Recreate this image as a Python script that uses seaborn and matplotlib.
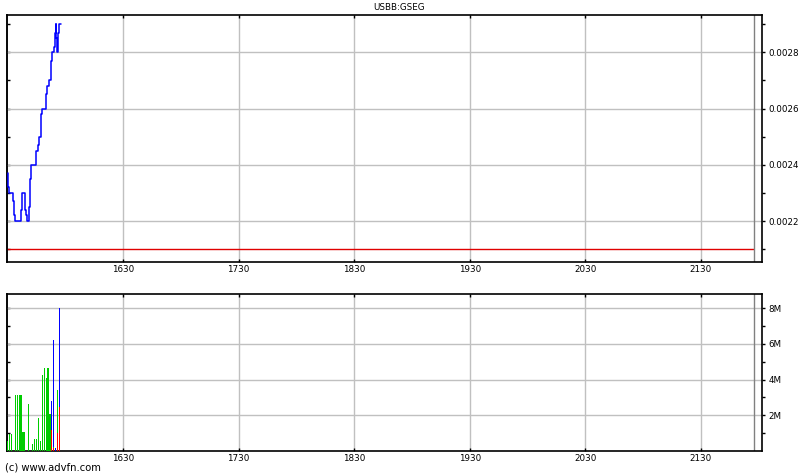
import matplotlib
matplotlib.use("Agg")
import matplotlib.pyplot as plt
import seaborn as sns
import numpy as np
import pandas as pd
from matplotlib.ticker import FixedLocator, FuncFormatter, NullFormatter

# ---------------- data ----------------
title = "USBB:GSEG"
session_start = 930          # 15:30 in minutes since midnight
session_end_marker = 1317.5  # grey end-of-session line
prev_close = 0.0021

# price (minutes after 15:30, step value)
price_minutes = [0, 0.2, 0.6, 2.8, 3.2, 3.7, 7.1, 7.6, 9.3, 9.8, 10.2, 11.2, 11.7,
                 12.3, 14.7, 15.0, 15.6, 16.4, 17.1, 17.5, 17.8, 19.9, 20.2, 20.7,
                 21.6, 22.3, 22.6, 23.3, 24.0, 24.4, 24.9, 25.2, 25.6, 26.1, 26.6, 27.7]
price_values = [0.00237, 0.00232, 0.00230, 0.00227, 0.00222, 0.00220, 0.00224, 0.00230,
                0.00224, 0.00222, 0.00220, 0.00225, 0.00235, 0.00240, 0.00242, 0.00245,
                0.00247, 0.00250, 0.00253, 0.00258, 0.00260, 0.00263, 0.00265, 0.00268,
                0.00270, 0.00273, 0.00277, 0.00280, 0.00282, 0.00287, 0.00290, 0.00285,
                0.00280, 0.00287, 0.00290, 0.00290]

# volume per minute (millions), stacked red / green / blue
vol_minutes = [0, 1, 2, 4, 5, 6, 7, 8, 9, 11, 13, 14, 15, 16, 17, 18, 19, 20, 21, 22,
               23, 24, 25, 26, 27]
vol_red = [0] * 20 + [1.17, 0.15, 0, 0.98, 2.45]
vol_green = [0.58, 0.97, 0.97, 3.16, 3.16, 3.16, 3.16, 1.05, 1.08, 2.65, 0.41, 0.69,
             0.69, 1.87, 0.58, 4.28, 4.67, 4.11, 4.67, 2.09, 0, 0.10, 0, 2.46, 0]
vol_blue = [0] * 20 + [1.60, 5.94, 0.19, 0, 5.55]

xtick_minutes = [990, 1050, 1110, 1170, 1230, 1290]
xtick_labels = ["1630", "1730", "1830", "1930", "2030", "2130"]
price_ticks = [0.0022, 0.0024, 0.0026, 0.0028]
price_minor = [0.0021, 0.0023, 0.0025, 0.0027, 0.0029]
vol_ticks = [2, 4, 6, 8]
vol_minor = [1, 3, 5, 7]

# ---------------- style ----------------
sns.set_style("white")
plt.rcParams["font.family"] = ["DejaVu Sans"]
plt.rcParams["text.color"] = "black"
plt.rcParams["xtick.color"] = "black"
plt.rcParams["ytick.color"] = "black"
FS = 6.3
GRID = "#c0c0c0"

fig = plt.figure(figsize=(8, 4.75), dpi=100)
W, H = 800.0, 475.0
def axes_px(l, t, r, b):
    return fig.add_axes([l / W, 1 - b / H, (r - l) / W, (b - t) / H])

ax1 = axes_px(7, 15, 762, 262)
ax2 = axes_px(7, 294, 762, 451)

xlim = (929.7, 1321.8)

df_price = pd.DataFrame({"t": [session_start + m for m in price_minutes],
                         "price": price_values})

# ---- price panel
sns.lineplot(data=df_price, x="t", y="price", ax=ax1, color="#0000ff",
             linewidth=1.1, drawstyle="steps-post", zorder=3)
ax1.hlines(prev_close, xlim[0], session_end_marker, color="#e00000", linewidth=1, zorder=2)
ax1.set_xlim(*xlim)
ax1.set_ylim(0.0020542, 0.0029327)

# ---- volume panel
vx = np.array([session_start + m for m in vol_minutes], dtype=float)
r = np.array(vol_red) * 1e6
g = np.array(vol_green) * 1e6
b = np.array(vol_blue) * 1e6
bw = 0.6
ax2.bar(vx, r, width=bw, color="#ff0000", linewidth=0, antialiased=False, zorder=3)
ax2.bar(vx, g, width=bw, bottom=r, color="#00cc00", linewidth=0, antialiased=False, zorder=3)
ax2.bar(vx, b, width=bw, bottom=r + g, color="#0000ff", linewidth=0, antialiased=False, zorder=3)
ax2.set_xlim(*xlim)
ax2.set_ylim(0, 8.785e6)

ax1.yaxis.set_major_locator(FixedLocator(price_ticks))
ax1.yaxis.set_minor_locator(FixedLocator(price_minor))
ax1.yaxis.set_major_formatter(FuncFormatter(lambda v, p: f"{v:.4f}"))
ax1.yaxis.set_minor_formatter(NullFormatter())

ax2.yaxis.set_major_locator(FixedLocator([v * 1e6 for v in vol_ticks]))
ax2.yaxis.set_minor_locator(FixedLocator([v * 1e6 for v in vol_minor]))
ax2.yaxis.set_major_formatter(FuncFormatter(lambda v, p: f"{int(round(v / 1e6))}M"))
ax2.yaxis.set_minor_formatter(NullFormatter())

for ax in (ax1, ax2):
    ax.axvline(session_end_marker, color="#808080", linewidth=1, zorder=2)
    ax.set_xlabel("")
    ax.set_ylabel("")
    ax.xaxis.set_major_locator(FixedLocator(xtick_minutes))
    ax.set_xticklabels(xtick_labels, fontsize=FS)
    ax.grid(True, which="major", color=GRID, linewidth=1, zorder=0)
    ax.set_axisbelow(True)
    for s in ax.spines.values():
        s.set_color("black")
        s.set_linewidth(1.2)
    ax.tick_params(axis="x", which="major", direction="in", length=2.5, width=1,
                   top=True, bottom=True, pad=2, labelsize=FS, colors="black")
    ax.yaxis.tick_right()
    ax.tick_params(axis="y", which="both", direction="out", length=2.5, width=1,
                   right=True, left=False, labelleft=False, labelright=True,
                   pad=2, labelsize=FS, colors="black")
    # inward ticks on the left spine
    sec = ax.secondary_yaxis("left")
    sec.yaxis.set_major_locator(FixedLocator(ax.yaxis.get_majorticklocs()))
    sec.yaxis.set_minor_locator(FixedLocator(ax.yaxis.get_minorticklocs()))
    sec.yaxis.set_major_formatter(NullFormatter())
    sec.yaxis.set_minor_formatter(NullFormatter())
    sec.tick_params(axis="y", which="both", direction="in", length=2.5, width=1,
                    colors="black")
    sec.spines["left"].set_linewidth(1.2)

fig.text(398.5 / W, 1 - 8 / H, title, ha="center", va="center", fontsize=FS)
fig.text(5 / W, 1 - 467.5 / H, "(c) www.advfn.com", ha="left", va="center", fontsize=7.2)

fig.savefig("out.png", dpi=100)
